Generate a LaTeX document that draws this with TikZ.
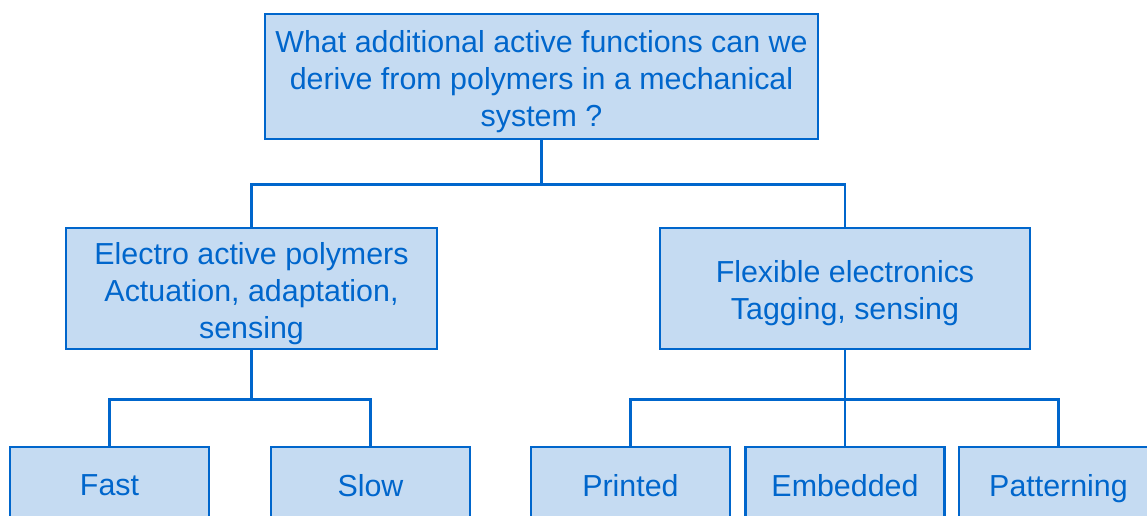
\documentclass[tikz,border=0pt]{standalone}
\usepackage{fontspec}
\setmainfont{Liberation Sans}
\usepackage{tikz}
\usetikzlibrary{positioning}
\definecolor{boxblue}{HTML}{0066CC}
\definecolor{boxfill}{HTML}{C5DBF2}

\begin{document}
\begin{tikzpicture}[x=0.02cm, y=-0.02cm,
      box/.style={draw=boxblue, fill=boxfill, text=boxblue, line width=1.6pt,
      align=center, inner sep=0pt,
      font=\fontsize{17.3}{21}\selectfont},
      three/.style={box, text height=60.1pt},
      two/.style={box, text height=39.1pt},
      leaf/.style={box, text depth=0pt, minimum width=199*0.02cm, minimum height=76*0.02cm},
      link/.style={draw=boxblue, line width=1.6pt}]
    \useasboundingbox (0,0) rectangle (1147,516);
    \clip (0,0) rectangle (1147,516);
    \node [three, minimum width=553*0.02cm, minimum height=125*0.02cm] (top) at (541.5,76.5)
      {What additional active functions can we\\derive from polymers in a mechanical\\system ?};
    \node [three, minimum width=371*0.02cm, minimum height=121*0.02cm] (eap) at (251.5,288.5)
      {Electro active polymers\\Actuation, adaptation,\\sensing};
    \node [two, minimum width=370*0.02cm, minimum height=121*0.02cm] (flex) at (845,288.5)
      {Flexible electronics\\Tagging, sensing};
    %% leaves
    \node [leaf] (fast) at (109.5,485) {Fast};
    \node [leaf] (slow) at (370.5,485) {Slow};
    \node [leaf] (printed) at (630.5,485) {Printed};
    \node [leaf] (embedded) at (845,485) {Embedded};
    \node [leaf] (pattern) at (1058.5,485) {Patterning};
    %% tree lines
    \path (top.south) ++(0,44) coordinate (j1);
    \draw [link] (top.south) -- (j1) -| (eap.north);
    \draw [link] (j1) -| (flex.north);
    \path (eap.south) ++(0,49) coordinate (j2);
    \draw [link] (eap.south) -- (j2) -| (fast.north);
    \draw [link] (j2) -| (slow.north);
    \path (flex.south) ++(0,49) coordinate (j3);
    \draw [link] (flex.south) -- (j3) -| (printed.north);
    \draw [link] (j3) -- (embedded.north);
    \draw [link] (j3) -| (pattern.north);
  \end{tikzpicture}
\end{document}
